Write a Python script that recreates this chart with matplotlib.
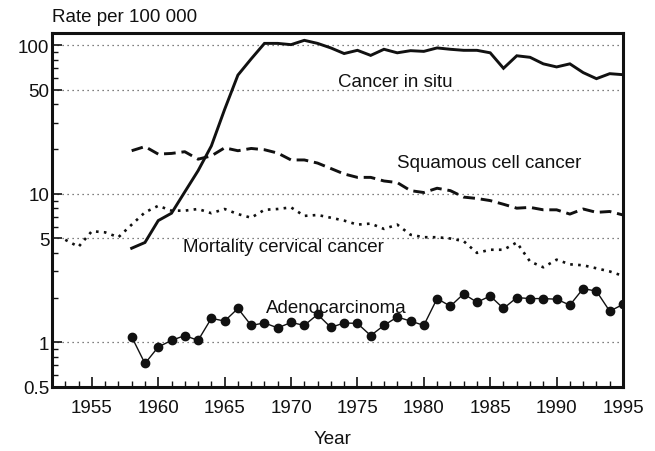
import matplotlib
matplotlib.use("Agg")
import matplotlib.pyplot as plt
from matplotlib.ticker import FixedLocator, LogLocator, NullFormatter, MultipleLocator

plt.rcParams['font.family'] = ['Liberation Sans', 'DejaVu Sans']

years_insitu = list(range(1958, 1996))
insitu = [4.3, 4.7, 6.6, 7.4, 10.3, 14.3, 21, 37, 63, 81, 103, 103, 101, 108, 103,
          96, 88, 92.5, 85.5, 94, 89, 92, 91, 96, 94, 92.5, 92.5, 89, 70, 85, 83,
          75, 71.5, 75, 65.5, 59.6, 64.4, 63.4]

years_squam = list(range(1958, 1996))
squamous = [19.5, 20.8, 18.5, 18.7, 19.2, 17.1, 18, 20.4, 19.5, 20.2, 19.8, 18.8,
            16.9, 16.9, 16.1, 14.8, 13.6, 12.9, 12.9, 12.2, 11.9, 10.5, 10.2, 10.9,
            10.5, 9.5, 9.3, 9.0, 8.5, 8.0, 8.1, 7.8, 7.8, 7.3, 7.9, 7.5, 7.6, 7.2]

years_mort = list(range(1953, 1996))
mortality = [4.9, 4.4, 5.6, 5.5, 5.1, 6.2, 7.5, 8.3, 7.7, 7.7, 7.9, 7.4, 7.9, 7.3,
             6.9, 7.8, 7.9, 8.1, 7.1, 7.2, 6.9, 6.6, 6.2, 6.3, 5.8, 6.2, 5.3, 5.1,
             5.1, 5.0, 4.8, 4.0, 4.2, 4.2, 4.7, 3.5, 3.2, 3.6, 3.35, 3.3, 3.15, 3.0, 2.8]

years_adeno = list(range(1958, 1996))
adeno = [1.09, 0.72, 0.93, 1.03, 1.11, 1.03, 1.45, 1.39, 1.69, 1.30, 1.35, 1.25,
         1.36, 1.30, 1.54, 1.26, 1.35, 1.34, 1.11, 1.30, 1.48, 1.39, 1.30, 1.97,
         1.75, 2.12, 1.86, 2.05, 1.69, 2.0, 1.97, 1.97, 1.95, 1.78, 2.30, 2.21,
         1.62, 1.80]

ytick_vals = [0.5, 1, 5, 10, 50, 100]
ytick_labels = ['0.5', '1', '5', '10', '50', '100']
xtick_vals = [1955, 1960, 1965, 1970, 1975, 1980, 1985, 1990, 1995]
grid_vals = [1, 5, 10, 50, 100]

fig = plt.figure(figsize=(6.55, 4.52), dpi=100)
ax = fig.add_axes([52/655, 1-388/452, (623-52)/655, (388-34)/452])
ax.set_yscale('log')
ax.set_xlim(1952, 1995)
ax.set_ylim(0.5, 121)

for g in grid_vals:
    ax.axhline(g, color='#555555', linestyle=(0, (1, 3)), linewidth=0.9, zorder=1)

c = '#111111'
ax.plot(years_insitu, insitu, color=c, linewidth=2.1, solid_joinstyle='miter', zorder=3)
ax.plot(years_squam, squamous, color=c, linewidth=2.1, linestyle=(0, (4, 2)), zorder=3)
ax.plot(years_mort, mortality, color=c, linewidth=1.9, linestyle=(0, (1, 2)), zorder=3)
ax.plot(years_adeno, adeno, color=c, linewidth=1.0, marker='o', markersize=6,
        markerfacecolor=c, markeredgecolor=c, zorder=4)

ax.yaxis.set_major_locator(FixedLocator(ytick_vals))
ax.set_yticklabels(ytick_labels)
ax.yaxis.set_minor_locator(LogLocator(base=10, subs=[2, 3, 4, 6, 7, 8, 9]))
ax.yaxis.set_minor_formatter(NullFormatter())
ax.xaxis.set_major_locator(FixedLocator(xtick_vals))
ax.xaxis.set_minor_locator(MultipleLocator(1))

fs = 13.5
ax.tick_params(axis='both', which='major', direction='in', length=7, width=1.2,
               labelsize=fs, colors='#111111')
ax.tick_params(axis='x', which='major', pad=9)
ax.tick_params(axis='y', which='major', pad=2)
ax.tick_params(axis='both', which='minor', direction='in', length=4, width=1.0,
               colors='#111111')
ax.tick_params(axis='y', which='both', right=False)
ax.tick_params(axis='x', which='both', top=False)

for s in ax.spines.values():
    s.set_linewidth(2.2)
    s.set_color('#111111')

ax.text(1973.55, 53.2, 'Cancer in situ', fontsize=fs, va='baseline', ha='left', color='#111111')
ax.text(1978.0, 15.1, 'Squamous cell cancer', fontsize=fs, va='baseline', ha='left', color='#111111')
ax.text(1961.9, 4.12, 'Mortality cervical cancer', fontsize=fs, va='baseline', ha='left', color='#111111')
ax.text(1968.1, 1.60, 'Adenocarcinoma', fontsize=fs, va='baseline', ha='left', color='#111111')

fig.text(52/655, 1-17.5/452, 'Rate per 100 000', fontsize=fs, va='center', ha='left', color='#111111')
fig.text(333/655, 1-440/452, 'Year', fontsize=fs, va='center', ha='center', color='#111111')

fig.savefig('out.png', dpi=100)
